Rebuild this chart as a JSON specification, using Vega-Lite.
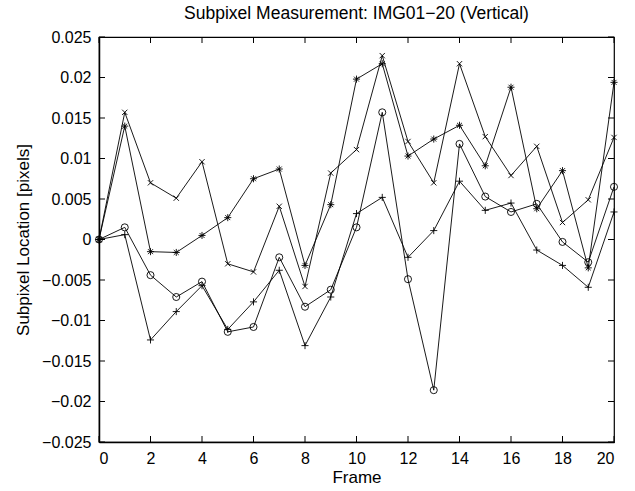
{
  "$schema": "https://vega.github.io/schema/vega-lite/v6.json",
  "width": 515,
  "height": 405,
  "autosize": {"type": "none"},
  "padding": {"left": 99, "top": 37, "right": 21, "bottom": 49},
  "background": "white",
  "title": {"text": "Subpixel Measurement: IMG01−20 (Vertical)", "fontSize": 17.5, "fontWeight": "normal", "font": "Liberation Sans", "color": "black", "offset": 7, "anchor": "middle"},
  "config": {
    "view": {"stroke": "black", "strokeWidth": 1.2},
    "axis": {"domain": true, "domainColor": "black", "domainWidth": 1.5, "ticks": false, "tickSize": 0, "labelPadding": 8, "labelFont": "Liberation Sans", "labelFontSize": 16, "labelColor": "black", "titleFont": "Liberation Sans", "titleFontSize": 17, "titleFontWeight": "normal", "titleColor": "black", "grid": false}
  },
  "datasets": {
    "xticks": [{"v": 0}, {"v": 2}, {"v": 4}, {"v": 6}, {"v": 8}, {"v": 10}, {"v": 12}, {"v": 14}, {"v": 16}, {"v": 18}, {"v": 20}],
    "yticks": [{"v": -0.025}, {"v": -0.02}, {"v": -0.015}, {"v": -0.01}, {"v": -0.005}, {"v": 0}, {"v": 0.005}, {"v": 0.01}, {"v": 0.015}, {"v": 0.02}, {"v": 0.025}],
    "pts": [
      {"frame": 0, "series": "o", "value": 0}, {"frame": 1, "series": "o", "value": 0.0015}, {"frame": 2, "series": "o", "value": -0.0044}, {"frame": 3, "series": "o", "value": -0.0071}, {"frame": 4, "series": "o", "value": -0.0052}, {"frame": 5, "series": "o", "value": -0.0114}, {"frame": 6, "series": "o", "value": -0.0108}, {"frame": 7, "series": "o", "value": -0.0022}, {"frame": 8, "series": "o", "value": -0.0083}, {"frame": 9, "series": "o", "value": -0.0062}, {"frame": 10, "series": "o", "value": 0.0015}, {"frame": 11, "series": "o", "value": 0.0157}, {"frame": 12, "series": "o", "value": -0.0049}, {"frame": 13, "series": "o", "value": -0.0186}, {"frame": 14, "series": "o", "value": 0.0118}, {"frame": 15, "series": "o", "value": 0.0053}, {"frame": 16, "series": "o", "value": 0.0034}, {"frame": 17, "series": "o", "value": 0.0044}, {"frame": 18, "series": "o", "value": -0.0003}, {"frame": 19, "series": "o", "value": -0.0028}, {"frame": 20, "series": "o", "value": 0.0065},
      {"frame": 0, "series": "x", "value": 0}, {"frame": 1, "series": "x", "value": 0.0157}, {"frame": 2, "series": "x", "value": 0.0070}, {"frame": 3, "series": "x", "value": 0.0051}, {"frame": 4, "series": "x", "value": 0.0096}, {"frame": 5, "series": "x", "value": -0.0030}, {"frame": 6, "series": "x", "value": -0.0040}, {"frame": 7, "series": "x", "value": 0.0041}, {"frame": 8, "series": "x", "value": -0.0058}, {"frame": 9, "series": "x", "value": 0.0082}, {"frame": 10, "series": "x", "value": 0.0111}, {"frame": 11, "series": "x", "value": 0.0227}, {"frame": 12, "series": "x", "value": 0.0121}, {"frame": 13, "series": "x", "value": 0.0070}, {"frame": 14, "series": "x", "value": 0.0217}, {"frame": 15, "series": "x", "value": 0.0127}, {"frame": 16, "series": "x", "value": 0.0079}, {"frame": 17, "series": "x", "value": 0.0115}, {"frame": 18, "series": "x", "value": 0.0021}, {"frame": 19, "series": "x", "value": 0.0049}, {"frame": 20, "series": "x", "value": 0.0126},
      {"frame": 0, "series": "+", "value": 0}, {"frame": 1, "series": "+", "value": 0.0006}, {"frame": 2, "series": "+", "value": -0.0124}, {"frame": 3, "series": "+", "value": -0.0089}, {"frame": 4, "series": "+", "value": -0.0057}, {"frame": 5, "series": "+", "value": -0.0111}, {"frame": 6, "series": "+", "value": -0.0077}, {"frame": 7, "series": "+", "value": -0.0038}, {"frame": 8, "series": "+", "value": -0.0131}, {"frame": 9, "series": "+", "value": -0.0071}, {"frame": 10, "series": "+", "value": 0.0032}, {"frame": 11, "series": "+", "value": 0.0052}, {"frame": 12, "series": "+", "value": -0.0022}, {"frame": 13, "series": "+", "value": 0.0011}, {"frame": 14, "series": "+", "value": 0.0072}, {"frame": 15, "series": "+", "value": 0.0036}, {"frame": 16, "series": "+", "value": 0.0045}, {"frame": 17, "series": "+", "value": -0.0013}, {"frame": 18, "series": "+", "value": -0.0032}, {"frame": 19, "series": "+", "value": -0.0059}, {"frame": 20, "series": "+", "value": 0.0034},
      {"frame": 0, "series": "*", "value": 0}, {"frame": 1, "series": "*", "value": 0.0140}, {"frame": 2, "series": "*", "value": -0.0015}, {"frame": 3, "series": "*", "value": -0.0016}, {"frame": 4, "series": "*", "value": 0.0005}, {"frame": 5, "series": "*", "value": 0.0027}, {"frame": 6, "series": "*", "value": 0.0075}, {"frame": 7, "series": "*", "value": 0.0087}, {"frame": 8, "series": "*", "value": -0.0032}, {"frame": 9, "series": "*", "value": 0.0043}, {"frame": 10, "series": "*", "value": 0.0198}, {"frame": 11, "series": "*", "value": 0.0217}, {"frame": 12, "series": "*", "value": 0.0103}, {"frame": 13, "series": "*", "value": 0.0124}, {"frame": 14, "series": "*", "value": 0.0141}, {"frame": 15, "series": "*", "value": 0.0091}, {"frame": 16, "series": "*", "value": 0.0188}, {"frame": 17, "series": "*", "value": 0.0038}, {"frame": 18, "series": "*", "value": 0.0085}, {"frame": 19, "series": "*", "value": -0.0035}, {"frame": 20, "series": "*", "value": 0.0194}
    ]
  },
  "layer": [
    {
      "data": {"name": "pts"},
      "mark": {"type": "line", "color": "black", "strokeWidth": 0.9},
      "encoding": {
        "x": {"field": "frame", "type": "quantitative", "scale": {"domain": [0, 20], "nice": false, "zero": false}, "axis": {"orient": "bottom", "values": [0, 2, 4, 6, 8, 10, 12, 14, 16, 18, 20], "title": "Frame", "titlePadding": 3}},
        "y": {"field": "value", "type": "quantitative", "scale": {"domain": [-0.025, 0.025], "nice": false, "zero": false}, "axis": {"orient": "left", "values": [-0.025, -0.02, -0.015, -0.01, -0.005, 0, 0.005, 0.01, 0.015, 0.02, 0.025], "format": "~g", "title": "Subpixel Location [pixels]", "titlePadding": 9}},
        "detail": {"field": "series"}
      }
    },
    {
      "data": {"name": "pts"},
      "mark": {"type": "point", "filled": false, "color": "black", "strokeWidth": 0.9, "size": 50, "opacity": 1},
      "encoding": {
        "x": {"field": "frame", "type": "quantitative", "axis": null},
        "y": {"field": "value", "type": "quantitative", "axis": null},
        "shape": {"field": "series", "type": "nominal", "legend": null, "scale": {"domain": ["o", "x", "+", "*"], "range": ["circle", "M-0.75,-0.75L0.75,0.75M0.75,-0.75L-0.75,0.75", "M-1,0L1,0M0,-1L0,1", "M-1,0L1,0M0,-1L0,1M-0.7,-0.7L0.7,0.7M0.7,-0.7L-0.7,0.7"]}}
      }
    },
    {
      "data": {"name": "xticks"},
      "mark": {"type": "tick", "orient": "vertical", "color": "black", "size": 6, "thickness": 1, "opacity": 1, "yOffset": -3},
      "encoding": {
        "x": {"field": "v", "type": "quantitative", "axis": null},
        "y": {"datum": -0.025, "type": "quantitative", "axis": null}
      }
    },
    {
      "data": {"name": "xticks"},
      "mark": {"type": "tick", "orient": "vertical", "color": "black", "size": 6, "thickness": 1, "opacity": 1, "yOffset": 3},
      "encoding": {
        "x": {"field": "v", "type": "quantitative", "axis": null},
        "y": {"datum": 0.025, "type": "quantitative", "axis": null}
      }
    },
    {
      "data": {"name": "yticks"},
      "mark": {"type": "tick", "orient": "horizontal", "color": "black", "size": 6, "thickness": 1, "opacity": 1, "xOffset": 3},
      "encoding": {
        "y": {"field": "v", "type": "quantitative", "axis": null},
        "x": {"datum": 0, "type": "quantitative", "axis": null}
      }
    },
    {
      "data": {"name": "yticks"},
      "mark": {"type": "tick", "orient": "horizontal", "color": "black", "size": 6, "thickness": 1, "opacity": 1, "xOffset": -3},
      "encoding": {
        "y": {"field": "v", "type": "quantitative", "axis": null},
        "x": {"datum": 20, "type": "quantitative", "axis": null}
      }
    }
  ],
  "resolve": {"axis": {"x": "independent", "y": "independent"}}
}
